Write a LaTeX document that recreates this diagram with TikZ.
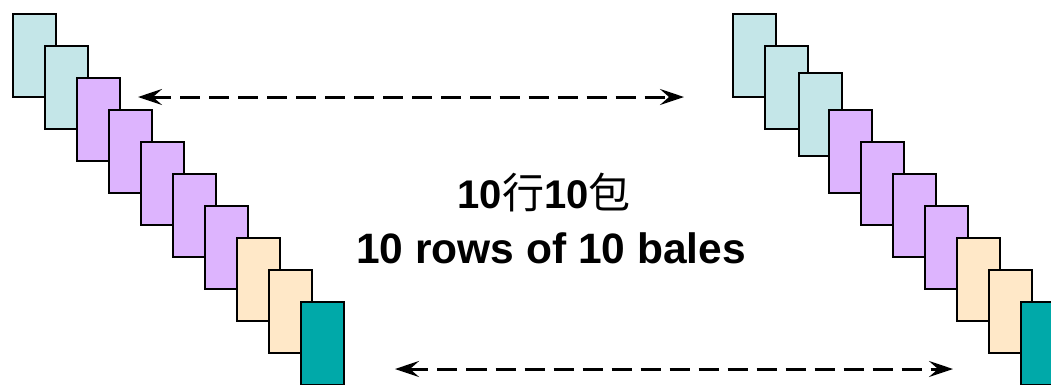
\documentclass[tikz,border=0pt]{standalone}
\usepackage{fontspec}
\setmainfont{Liberation Sans}
\newfontfamily\cjk{Noto Sans CJK SC}
\usetikzlibrary{arrows.meta}
\definecolor{baleblue}{HTML}{C4E6E8}
\definecolor{balepurple}{HTML}{DDB4FE}
\definecolor{balepeach}{HTML}{FFE8C8}
\definecolor{baleteal}{HTML}{00A9A9}
\begin{document}
\begin{tikzpicture}[x=1pt,y=-1pt,
  bale/.style={draw=black,line width=2.4pt,minimum width=43pt,minimum height=83pt,inner sep=0pt,anchor=north west},
  gap/.style={dashed,dash pattern=on 20pt off 9pt,line width=3pt,{Stealth[length=24pt,width=16pt,inset=9pt]}-{Stealth[length=24pt,width=16pt,inset=9pt]}},
  lbl/.style={font=\bfseries,anchor=base,inner sep=0pt}]
\useasboundingbox (0,0) rectangle (1051,384);
\clip (0,0) rectangle (1051,384);
% left stack
\foreach \i/\c in {0/baleblue,1/baleblue,2/balepurple,3/balepurple,4/balepurple,5/balepurple,6/balepurple,7/balepeach,8/balepeach,9/baleteal}{
  \node[bale,fill=\c] (L\i) at ({12+32*\i},{13+32*\i}) {};
}
% right stack
\foreach \i/\c/\dx/\dy in {0/baleblue/0/0,1/baleblue/0/0,2/baleblue/2/-5,3/balepurple/0/0,4/balepurple/0/0,5/balepurple/0/0,6/balepurple/0/0,7/balepeach/0/0,8/balepeach/0/0,9/baleteal/0/0}{
  \node[bale,fill=\c] (R\i) at ({732+32*\i+\dx},{13+32*\i+\dy}) {};
}
% arrows
\coordinate (t1) at (138,97);
\coordinate (t2) at (684,97);
\coordinate (b1) at (395,369);
\coordinate (b2) at (953,369);
\draw[gap] (t1) -- (t2);
\draw[gap] (b1) -- (b2);
% labels
\node[lbl,font=\bfseries\fontsize{40}{48}\selectfont] (zh) at (544,208) {10{\cjk\mdseries\fontsize{42}{48}\selectfont 行}10{\cjk\mdseries\fontsize{42}{48}\selectfont 包}};
\node[lbl,font=\bfseries\fontsize{42.5}{48}\selectfont] (en) at (551,263) {10 rows of 10 bales};
\end{tikzpicture}
\end{document}
